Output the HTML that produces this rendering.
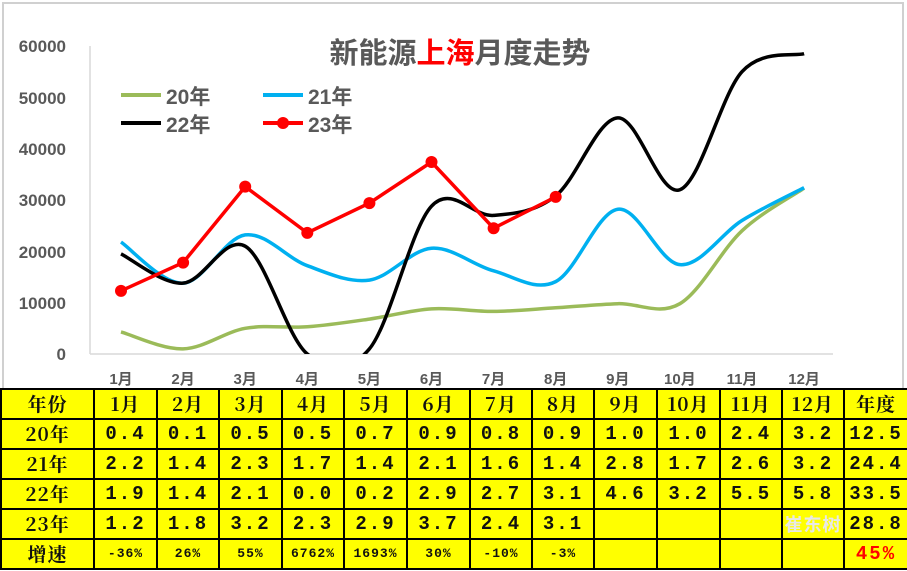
<!DOCTYPE html>
<html><head><meta charset="utf-8"><style>
body{margin:0;width:907px;height:571px;overflow:hidden;background:#fff;font-family:"Liberation Sans","Noto Sans CJK SC",sans-serif;}
#chart{position:absolute;left:0;top:0;width:907px;height:389px;}
table{position:absolute;left:0;top:388px;width:907px;table-layout:fixed;border-collapse:collapse;background:#ffff00;font-family:"Liberation Mono","Noto Serif CJK SC",serif;font-weight:bold;}
tr{height:30px;}
td{border:2px solid #000;height:28px;line-height:20px;padding:0;text-align:center;font-size:19px;color:#111;letter-spacing:2px;overflow:hidden;white-space:nowrap;}
td.c{font-family:"Noto Serif CJK SC",serif;letter-spacing:1px;}
td.s{font-size:13px;letter-spacing:1px;}
</style></head><body>
<svg id="chart" width="907" height="389" xmlns="http://www.w3.org/2000/svg">
<defs><clipPath id="cp"><rect x="90" y="0" width="820" height="354"/></clipPath></defs>
<rect x="3" y="3" width="900" height="390" fill="#fff" stroke="#d0d0d0" stroke-width="2"/>
<line x1="90" y1="46" x2="90" y2="354" stroke="#d9d9d9" stroke-width="1.5"/>
<line x1="90" y1="354" x2="833" y2="354" stroke="#d9d9d9" stroke-width="1.5"/>
<g font-size="17" font-weight="bold" fill="#595959" text-anchor="end">
<text x="66" y="52">60000</text><text x="66" y="104">50000</text><text x="66" y="155">40000</text><text x="66" y="206">30000</text><text x="66" y="258">20000</text><text x="66" y="309">10000</text><text x="66" y="360">0</text>
</g>
<g id="xl" font-size="15" font-weight="bold" fill="#595959" text-anchor="middle"></g>
<text x="460" y="63" font-size="29" font-weight="bold" fill="#595959" text-anchor="middle">新能源<tspan fill="#ff0000">上海</tspan>月度走势</text>
<g font-size="21" font-weight="bold" fill="#595959">
<line x1="121" y1="95" x2="161" y2="95" stroke="#9bbb59" stroke-width="4"/><text x="166" y="104">20年</text>
<line x1="263" y1="95" x2="303" y2="95" stroke="#00b0f0" stroke-width="4"/><text x="308" y="104">21年</text>
<line x1="121" y1="123" x2="161" y2="123" stroke="#000" stroke-width="4"/><text x="166" y="132">22年</text>
<line x1="263" y1="123" x2="303" y2="123" stroke="#ff0000" stroke-width="4"/><circle cx="283" cy="123" r="6" fill="#ff0000"/><text x="308" y="132">23年</text>
</g>
<g id="lines" clip-path="url(#cp)"></g>
</svg>
<table>
<colgroup><col style="width:93px"><col style="width:63px"><col style="width:62px"><col style="width:63px"><col style="width:62px"><col style="width:63px"><col style="width:63px"><col style="width:62px"><col style="width:62px"><col style="width:63px"><col style="width:63px"><col style="width:62px"><col style="width:62px"><col style="width:64px"></colgroup>
<tr><td class="c">年份</td><td class="c">1月</td><td class="c">2月</td><td class="c">3月</td><td class="c">4月</td><td class="c">5月</td><td class="c">6月</td><td class="c">7月</td><td class="c">8月</td><td class="c">9月</td><td class="c">10月</td><td class="c">11月</td><td class="c">12月</td><td class="c">年度</td></tr>
<tr><td class="c">20年</td><td>0.4</td><td>0.1</td><td>0.5</td><td>0.5</td><td>0.7</td><td>0.9</td><td>0.8</td><td>0.9</td><td>1.0</td><td>1.0</td><td>2.4</td><td>3.2</td><td>12.5</td></tr>
<tr><td class="c">21年</td><td>2.2</td><td>1.4</td><td>2.3</td><td>1.7</td><td>1.4</td><td>2.1</td><td>1.6</td><td>1.4</td><td>2.8</td><td>1.7</td><td>2.6</td><td>3.2</td><td>24.4</td></tr>
<tr><td class="c">22年</td><td>1.9</td><td>1.4</td><td>2.1</td><td>0.0</td><td>0.2</td><td>2.9</td><td>2.7</td><td>3.1</td><td>4.6</td><td>3.2</td><td>5.5</td><td>5.8</td><td>33.5</td></tr>
<tr><td class="c">23年</td><td>1.2</td><td>1.8</td><td>3.2</td><td>2.3</td><td>2.9</td><td>3.7</td><td>2.4</td><td>3.1</td><td></td><td></td><td></td><td class="c" style="color:#e8e8e8;font-size:18px;font-family:'Noto Sans CJK SC',sans-serif">崔东树</td><td>28.8</td></tr>
<tr><td class="c">增速</td><td class="s">-36%</td><td class="s">26%</td><td class="s">55%</td><td class="s">6762%</td><td class="s">1693%</td><td class="s">30%</td><td class="s">-10%</td><td class="s">-3%</td><td></td><td></td><td></td><td></td><td style="color:#ff0000">45%</td></tr>
</table>
<script>
var X=function(i){return 121+i*62.1};var Y=function(v){return 354-v/60000*308};
var xl=document.getElementById('xl'),h='';
for(var i=0;i<12;i++)h+='<text x="'+X(i)+'" y="384">'+(i+1)+'月</text>';
xl.innerHTML=h;
function smooth(d){var p=d.map(function(v,i){return[X(i),Y(v)]});var s='M'+p[0][0]+' '+p[0][1];
for(var i=0;i<p.length-1;i++){var p0=p[i-1]||p[i],p1=p[i],p2=p[i+1],p3=p[i+2]||p2,t=6;
s+=' C'+(p1[0]+(p2[0]-p0[0])/t)+' '+(p1[1]+(p2[1]-p0[1])/t)+' '+(p2[0]-(p3[0]-p1[0])/t)+' '+(p2[1]-(p3[1]-p1[1])/t)+' '+p2[0]+' '+p2[1];}return s;}
var L=document.getElementById('lines'),o='';
o+='<path d="'+smooth([4300,1000,5000,5300,6800,8800,8300,9000,9800,9800,24000,32300])+'" fill="none" stroke="#9bbb59" stroke-width="3.5"/>';
o+='<path d="'+smooth([21800,13800,23200,17200,14400,20600,16200,14100,28200,17400,26000,32400])+'" fill="none" stroke="#00b0f0" stroke-width="3.5"/>';
o+='<path d="'+smooth([19500,13800,21000,0,1000,28800,27000,30800,46000,32000,55000,58500])+'" fill="none" stroke="#000" stroke-width="3.5"/>';
var r=[12300,17800,32600,23600,29400,37400,24500,30600];
o+='<polyline points="'+r.map(function(v,i){return X(i)+','+Y(v)}).join(' ')+'" fill="none" stroke="#ff0000" stroke-width="3.5"/>';
r.forEach(function(v,i){o+='<circle cx="'+X(i)+'" cy="'+Y(v)+'" r="6" fill="#ff0000"/>'});
L.innerHTML=o;
</script>
</body></html>
